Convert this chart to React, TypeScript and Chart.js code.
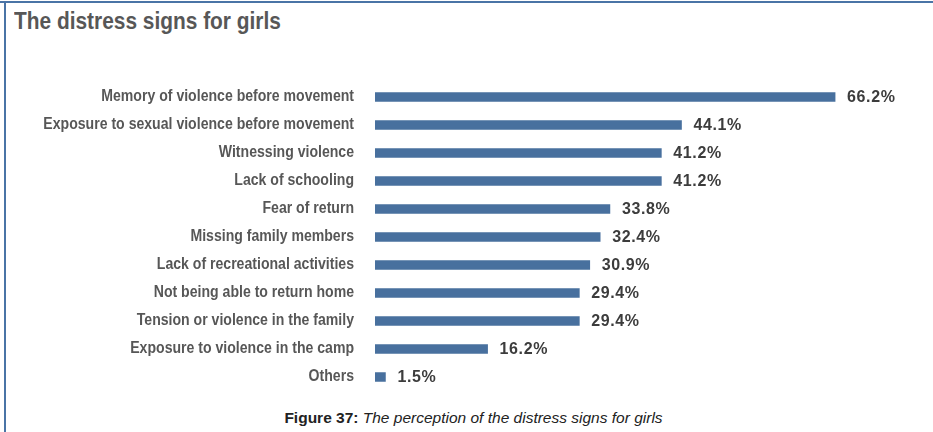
import React, { useEffect, useRef } from "react";
import { Chart, registerables } from "chart.js";

Chart.register(...registerables);

const categories = [
  "Memory of violence before movement",
  "Exposure to sexual violence before movement",
  "Witnessing violence",
  "Lack of schooling",
  "Fear of return",
  "Missing family members",
  "Lack of recreational activities",
  "Not being able to return home",
  "Tension or violence in the family",
  "Exposure to violence in the camp",
  "Others",
];
const values = [66.2, 44.1, 41.2, 41.2, 33.8, 32.4, 30.9, 29.4, 29.4, 16.2, 1.5];

const TITLE = "The distress signs for girls";
const CAPTION_BOLD = "Figure 37:";
const CAPTION_ITALIC = "The perception of the distress signs for girls";

const SANS = '"Liberation Sans", Arial, Helvetica, sans-serif';
const BAR_COLOR = "#48709e";
const LABEL_SCALE = 0.88;

const customLabels = {
  id: "customLabels",
  afterDatasetsDraw(chart: any) {
    const ctx = chart.ctx;
    const meta = chart.getDatasetMeta(0);
    const yScale = chart.scales.y;
    ctx.save();
    // value labels
    ctx.font = `bold 16px ${SANS}`;
    try { (ctx as any).letterSpacing = "0.6px"; } catch (e) {}
    ctx.fillStyle = "#3c3c3c";
    ctx.textAlign = "left";
    ctx.textBaseline = "middle";
    meta.data.forEach((bar: any, i: number) => {
      ctx.fillText(values[i].toFixed(1) + "%", bar.x + 12, bar.y + 1);
    });
    try { (ctx as any).letterSpacing = "0px"; } catch (e) {}
    // category labels, horizontally condensed
    ctx.font = `bold 16px ${SANS}`;
    ctx.fillStyle = "#575757";
    ctx.textAlign = "right";
    ctx.textBaseline = "middle";
    const rightX = yScale.right - 21;
    categories.forEach((c, i) => {
      const y = yScale.getPixelForValue(i);
      ctx.save();
      ctx.translate(rightX, y);
      ctx.scale(LABEL_SCALE, 1);
      ctx.fillText(c, 0, 0);
      ctx.restore();
    });
    ctx.restore();
  },
};

export default function App() {
  const ref = useRef<HTMLCanvasElement | null>(null);
  useEffect(() => {
    if (!ref.current) return;
    const chart = new Chart(ref.current, {
      type: "bar",
      data: {
        labels: categories,
        datasets: [
          {
            data: values,
            backgroundColor: BAR_COLOR,
            borderWidth: 0,
            barThickness: 9,
          },
        ],
      },
      options: {
        indexAxis: "y",
        responsive: false,
        animation: false,
        layout: { padding: { top: 13, bottom: 14, left: 0, right: 71.5 } },
        plugins: { legend: { display: false }, tooltip: { enabled: false } },
        scales: {
          x: { display: false, min: 0, max: 70 },
          y: {
            grid: { display: false, drawTicks: false },
            border: { display: false },
            ticks: { display: false, padding: 0 },
            afterFit(scale: any) {
              scale.width = 375;
              scale.paddingTop = 0;
              scale.paddingBottom = 0;
            },
          },
        },
      },
      plugins: [customLabels],
    });
    return () => chart.destroy();
  }, []);

  return (
    <div
      style={{
        position: "fixed",
        left: 0,
        top: 0,
        width: 933,
        height: 432,
        background: "#fff",
        overflow: "hidden",
      }}
    >
      <div style={{ position: "absolute", left: 0, top: 1, width: 933, height: 2, background: "#4a74a6" }} />
      <div style={{ position: "absolute", left: 4, top: 1, width: 2, height: 431, background: "#4a74a6" }} />
      <div
        style={{
          position: "absolute",
          left: 14,
          top: 6,
          fontFamily: SANS,
          fontWeight: "bold",
          fontSize: 24,
          lineHeight: "30px",
          color: "#575757",
          whiteSpace: "nowrap",
          transform: "scaleX(0.87)",
          transformOrigin: "0 0",
        }}
      >
        {TITLE}
      </div>
      <canvas ref={ref} width={933} height={335} style={{ position: "absolute", left: 0, top: 70 }} />
      <div
        style={{
          position: "absolute",
          left: 0,
          width: 947,
          top: 408,
          textAlign: "center",
          fontFamily: SANS,
          fontSize: 15.5,
          lineHeight: "20px",
          color: "#222",
          whiteSpace: "nowrap",
        }}
      >
        <b>{CAPTION_BOLD}</b> <i>{CAPTION_ITALIC}</i>
      </div>
    </div>
  );
}
